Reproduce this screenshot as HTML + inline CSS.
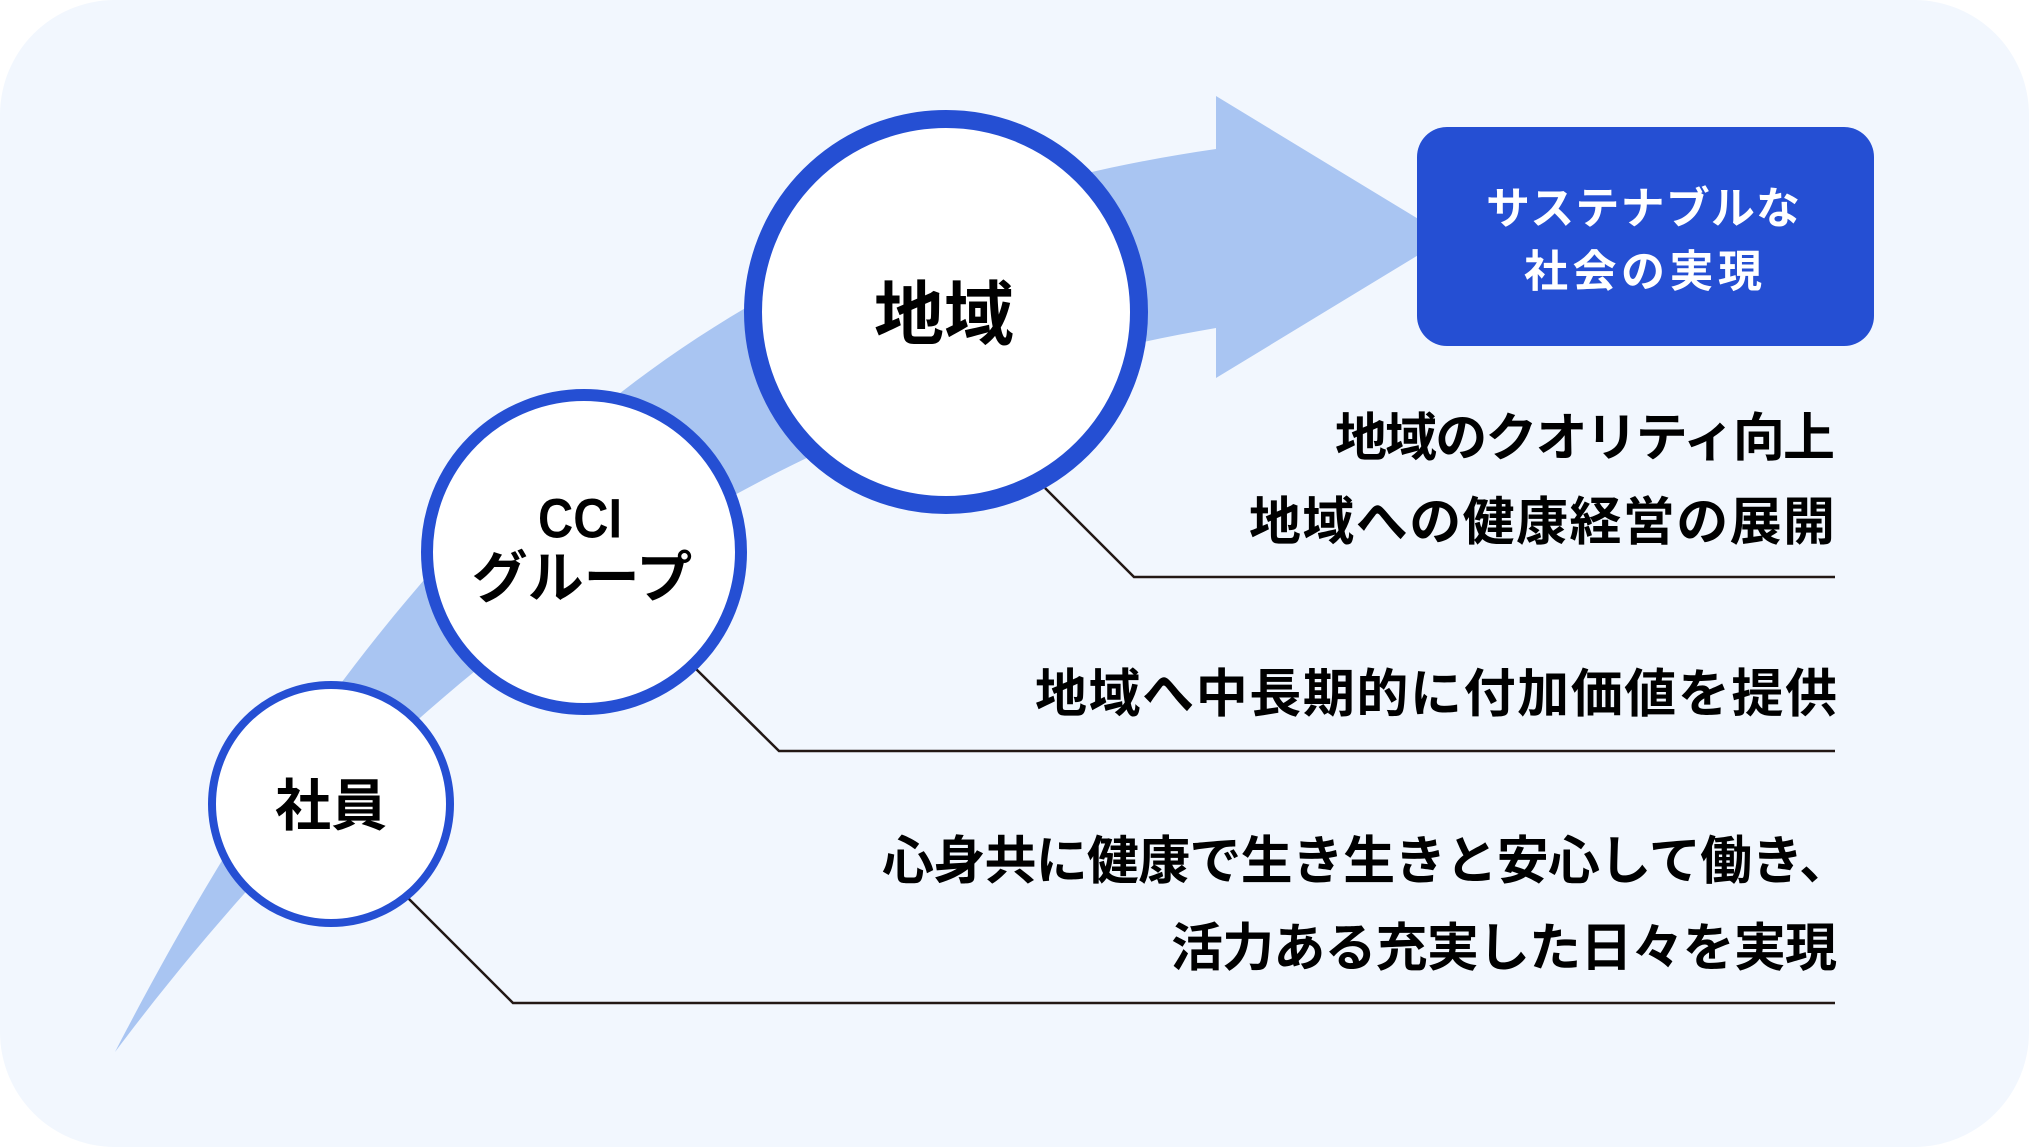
<!DOCTYPE html>
<html lang="ja">
<head>
<meta charset="utf-8">
<style>
  html, body { margin: 0; padding: 0; background: #ffffff; }
  body { width: 2029px; height: 1147px; overflow: hidden; }
  svg { display: block; }
  text { font-family: "Liberation Sans", "Noto Sans CJK JP", "Noto Sans CJK SC", sans-serif; }
</style>
</head>
<body>
<svg width="2029" height="1147" viewBox="0 0 2029 1147" xmlns="http://www.w3.org/2000/svg">
  <!-- background -->
  <rect x="0" y="0" width="2029" height="1147" rx="115" ry="115" fill="#f2f7fe"/>

  <!-- curved arrow -->
  <path d="M115,1052 C400,500 720,220 1216,149 L1216,96 L1448,237 L1216,378 L1216,328 C790,400 423,642 115,1052 Z" fill="#a9c5f2"/>

  <!-- connector lines -->
  <polyline points="1045,488 1134,577 1835,577" fill="none" stroke="#231815" stroke-width="2.5"/>
  <polyline points="695,668 779,751 1835,751" fill="none" stroke="#231815" stroke-width="2.5"/>
  <polyline points="408,898 513,1003 1835,1003" fill="none" stroke="#231815" stroke-width="2.5"/>

  <!-- circles -->
  <circle cx="946" cy="312" r="193" fill="#ffffff" stroke="#254fd3" stroke-width="18"/>
  <circle cx="584" cy="552" r="157" fill="#ffffff" stroke="#254fd3" stroke-width="12"/>
  <circle cx="331" cy="804" r="119" fill="#ffffff" stroke="#254fd3" stroke-width="8"/>

  <!-- circle labels -->
  <text x="944" y="315" font-size="70" font-weight="700" fill="#000" text-anchor="middle" dominant-baseline="central">地域</text>
  <text x="538" y="518" font-size="56" font-weight="700" fill="#000" dominant-baseline="central" textLength="84" lengthAdjust="spacingAndGlyphs">CCI</text>
  <text x="582" y="578" font-size="56" font-weight="700" fill="#000" text-anchor="middle" dominant-baseline="central">グループ</text>
  <text x="331" y="806" font-size="56" font-weight="700" fill="#000" text-anchor="middle" dominant-baseline="central">社員</text>

  <!-- goal box -->
  <rect x="1417" y="127" width="457" height="219" rx="30" ry="30" fill="#254fd3"/>
  <text x="1486" y="209" font-size="44" font-weight="700" fill="#ffffff" dominant-baseline="central" textLength="314" lengthAdjust="spacing">サステナブルな</text>
  <text x="1524" y="272" font-size="44" font-weight="700" fill="#ffffff" dominant-baseline="central" textLength="238" lengthAdjust="spacing">社会の実現</text>

  <!-- right-side descriptions -->
  <text x="1335" y="439" font-size="52" font-weight="700" fill="#000" dominant-baseline="central" textLength="500" lengthAdjust="spacing">地域のクオリティ向上</text>
  <text x="1249" y="523" font-size="52" font-weight="700" fill="#000" dominant-baseline="central" textLength="586" lengthAdjust="spacing">地域への健康経営の展開</text>
  <text x="1035" y="695" font-size="52" font-weight="700" fill="#000" dominant-baseline="central" textLength="802" lengthAdjust="spacing">地域へ中長期的に付加価値を提供</text>
  <text x="882" y="862" font-size="52" font-weight="700" fill="#000" dominant-baseline="central" textLength="969" lengthAdjust="spacing">心身共に健康で生き生きと安心して働き、</text>
  <text x="1171" y="949" font-size="52" font-weight="700" fill="#000" dominant-baseline="central" textLength="666" lengthAdjust="spacing">活力ある充実した日々を実現</text>
</svg>
</body>
</html>
